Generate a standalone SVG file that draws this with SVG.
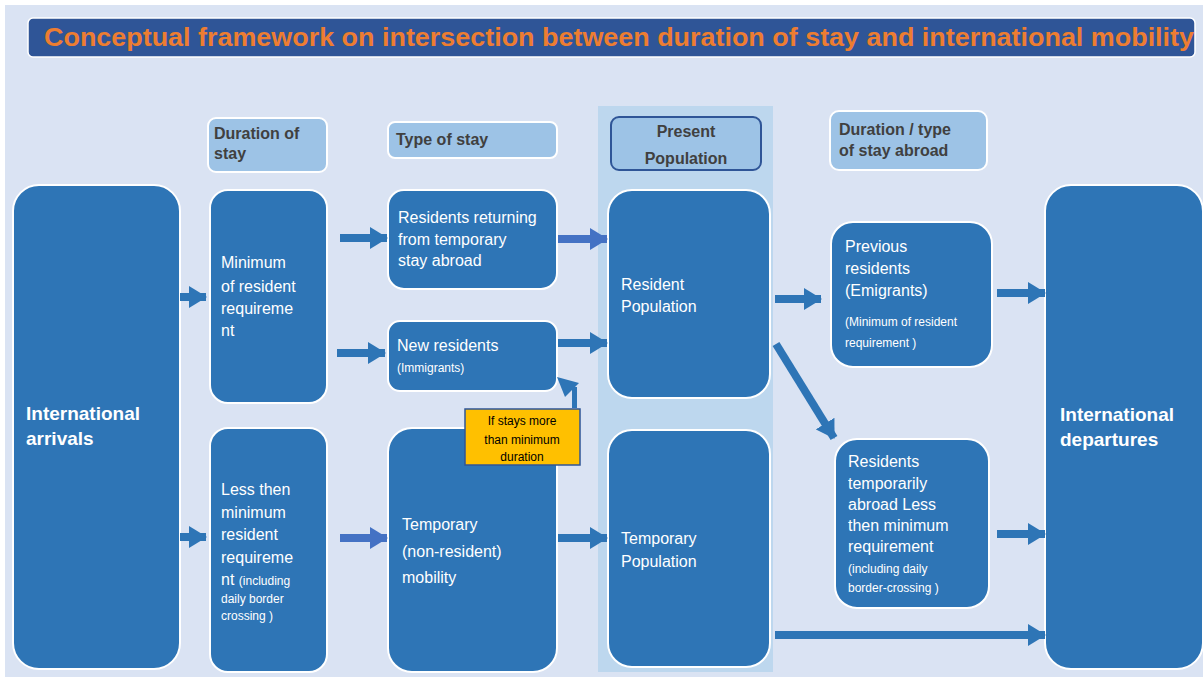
<svg xmlns="http://www.w3.org/2000/svg" width="1203" height="679" viewBox="0 0 1203 679">
<defs>
<style>
.box{fill:#2E75B6;stroke:#FFFFFF;stroke-width:2}
.hdr{fill:#9DC3E6;stroke:#FFFFFF;stroke-width:2}
.t{font-family:"Liberation Sans",Arial,sans-serif;font-size:16px;fill:#FFFFFF}
.ts{font-family:"Liberation Sans",Arial,sans-serif;font-size:12px;fill:#FFFFFF}
.tb{font-family:"Liberation Sans",Arial,sans-serif;font-size:19px;font-weight:bold;fill:#FFFFFF}
.th{font-family:"Liberation Sans",Arial,sans-serif;font-size:16px;font-weight:bold;fill:#404040}
.arr{stroke:#2E75B6;stroke-width:8;fill:none;marker-end:url(#ah)}
.arr2{stroke:#4472C4;stroke-width:8;fill:none;marker-end:url(#ah2)}
</style>
<marker id="ah" markerUnits="userSpaceOnUse" markerWidth="18" markerHeight="22" refX="17" refY="11" orient="auto"><polygon points="0,0 18,11 0,22" fill="#2E75B6"/></marker>
<marker id="ah2" markerUnits="userSpaceOnUse" markerWidth="18" markerHeight="22" refX="17" refY="11" orient="auto"><polygon points="0,0 18,11 0,22" fill="#4472C4"/></marker>
</defs>
<rect x="0" y="0" width="1203" height="679" fill="#FFFFFF"/>
<rect x="5" y="5" width="1198" height="672" fill="#DAE3F3"/>
<g id="title">
<rect x="28" y="18" width="1167" height="39" rx="5" fill="#2F5597" stroke="#FFFFFF" stroke-width="1.5"/>
<text x="44" y="46" font-family="'Liberation Sans',Arial,sans-serif" font-size="25" font-weight="bold" fill="#ED7D31" textLength="1150" lengthAdjust="spacingAndGlyphs">Conceptual framework on intersection between duration of stay and international mobility</text>
</g>
<g id="present-column"><rect x="598" y="106" width="175" height="566" fill="#BDD7EE"/></g>
<g id="hdr-duration"><rect class="hdr" x="208" y="118" width="119" height="54" rx="8"/><text class="th" x="214" y="139">Duration of</text><text class="th" x="214" y="159">stay</text></g>
<g id="hdr-type"><rect class="hdr" x="388" y="122" width="169" height="36" rx="7"/><text class="th" x="396" y="145">Type of stay</text></g>
<g id="hdr-present"><rect x="611" y="117" width="150" height="53" rx="8" fill="#9DC3E6" stroke="#2F5597" stroke-width="2"/><text class="th" x="686" y="137" font-size="19" text-anchor="middle">Present</text><text class="th" x="686" y="164" font-size="19" text-anchor="middle">Population</text></g>
<g id="hdr-abroad"><rect class="hdr" x="830" y="111" width="157" height="59" rx="9"/><text class="th" x="839" y="135">Duration / type</text><text class="th" x="839" y="156">of stay abroad</text></g>
<g id="arrivals"><rect class="box" x="13" y="185" width="167" height="484" rx="26"/><text class="tb" x="26" y="420">International</text><text class="tb" x="26" y="445">arrivals</text></g>
<g id="min-resident"><rect class="box" x="210" y="190" width="117" height="213" rx="18"/><text class="t" x="221" y="268">Minimum</text><text class="t" x="221" y="292">of resident</text><text class="t" x="221" y="314">requireme</text><text class="t" x="221" y="336">nt</text></g>
<g id="less-min"><rect class="box" x="210" y="428" width="117" height="244" rx="18"/><text class="t" x="221" y="495">Less then</text><text class="t" x="221" y="518">minimum</text><text class="t" x="221" y="540">resident</text><text class="t" x="221" y="563">requireme</text><text class="t" x="221" y="585">nt <tspan class="ts">(including</tspan></text><text class="ts" x="221" y="603">daily border</text><text class="ts" x="221" y="620">crossing )</text></g>
<g id="returning"><rect class="box" x="388" y="190" width="169" height="99" rx="16"/><text class="t" x="398" y="223">Residents returning</text><text class="t" x="398" y="245">from temporary</text><text class="t" x="398" y="266">stay abroad</text></g>
<g id="new-residents"><rect class="box" x="388" y="321" width="169" height="70" rx="12"/><text class="t" x="397" y="351">New residents</text><text class="ts" x="397" y="372">(Immigrants)</text></g>
<g id="temp-mobility"><rect class="box" x="388" y="428" width="169" height="244" rx="24"/><text class="t" x="402" y="530">Temporary</text><text class="t" x="402" y="557">(non-resident)</text><text class="t" x="402" y="583">mobility</text></g>
<g id="resident-pop"><rect class="box" x="608" y="190" width="162" height="208" rx="24"/><text class="t" x="621" y="290">Resident</text><text class="t" x="621" y="312">Population</text></g>
<g id="temp-pop"><rect class="box" x="608" y="430" width="162" height="237" rx="24"/><text class="t" x="621" y="544">Temporary</text><text class="t" x="621" y="567">Population</text></g>
<g id="previous"><rect class="box" x="831" y="222" width="161" height="145" rx="22"/><text class="t" x="845" y="252">Previous</text><text class="t" x="845" y="274">residents</text><text class="t" x="845" y="296">(Emigrants)</text><text class="ts" x="845" y="326">(Minimum of resident</text><text class="ts" x="845" y="347">requirement )</text></g>
<g id="temp-abroad"><rect class="box" x="835" y="439" width="154" height="169" rx="22"/><text class="t" x="848" y="467">Residents</text><text class="t" x="848" y="489">temporarily</text><text class="t" x="848" y="510">abroad Less</text><text class="t" x="848" y="531">then minimum</text><text class="t" x="848" y="552">requirement</text><text class="ts" x="848" y="573">(including daily</text><text class="ts" x="848" y="592">border-crossing )</text></g>
<g id="departures"><rect class="box" x="1045" y="185" width="158" height="484" rx="26"/><text class="tb" x="1060" y="421">International</text><text class="tb" x="1060" y="446" font-size="17">departures</text></g>
<g id="connectors">
<line class="arr" x1="180" y1="297" x2="206" y2="297"/>
<line class="arr" x1="180" y1="537" x2="206" y2="537"/>
<line class="arr" x1="340" y1="238" x2="387" y2="238"/>
<line class="arr" x1="337" y1="353" x2="385" y2="353"/>
<line class="arr2" x1="340" y1="538" x2="387" y2="538"/>
<line class="arr2" x1="558" y1="239" x2="607" y2="239"/>
<line class="arr" x1="558" y1="343" x2="607" y2="343"/>
<line class="arr" x1="558" y1="538" x2="607" y2="538"/>
<line class="arr" x1="775" y1="299" x2="821" y2="299"/>
<line class="arr" x1="776" y1="344" x2="834" y2="438"/>
<line class="arr" x1="997" y1="293" x2="1045" y2="293"/>
<line class="arr" x1="997" y1="534" x2="1045" y2="534"/>
<line class="arr" x1="775" y1="635" x2="1045" y2="635"/>
<path d="M574.5,408 L574.5,387" stroke="#2E75B6" stroke-width="5" fill="none"/>
<polygon points="557,377 579,383 565,397" fill="#2E75B6"/>
</g>
<g id="note"><rect x="465" y="409" width="115" height="56" fill="#FFC000" stroke="#2F5597" stroke-width="1.5"/><text x="522" y="425" font-family="'Liberation Sans',Arial,sans-serif" font-size="12" fill="#000000" text-anchor="middle">If stays more</text><text x="522" y="444" font-family="'Liberation Sans',Arial,sans-serif" font-size="12" fill="#000000" text-anchor="middle">than minimum</text><text x="522" y="461" font-family="'Liberation Sans',Arial,sans-serif" font-size="12" fill="#000000" text-anchor="middle">duration</text></g>
</svg>
